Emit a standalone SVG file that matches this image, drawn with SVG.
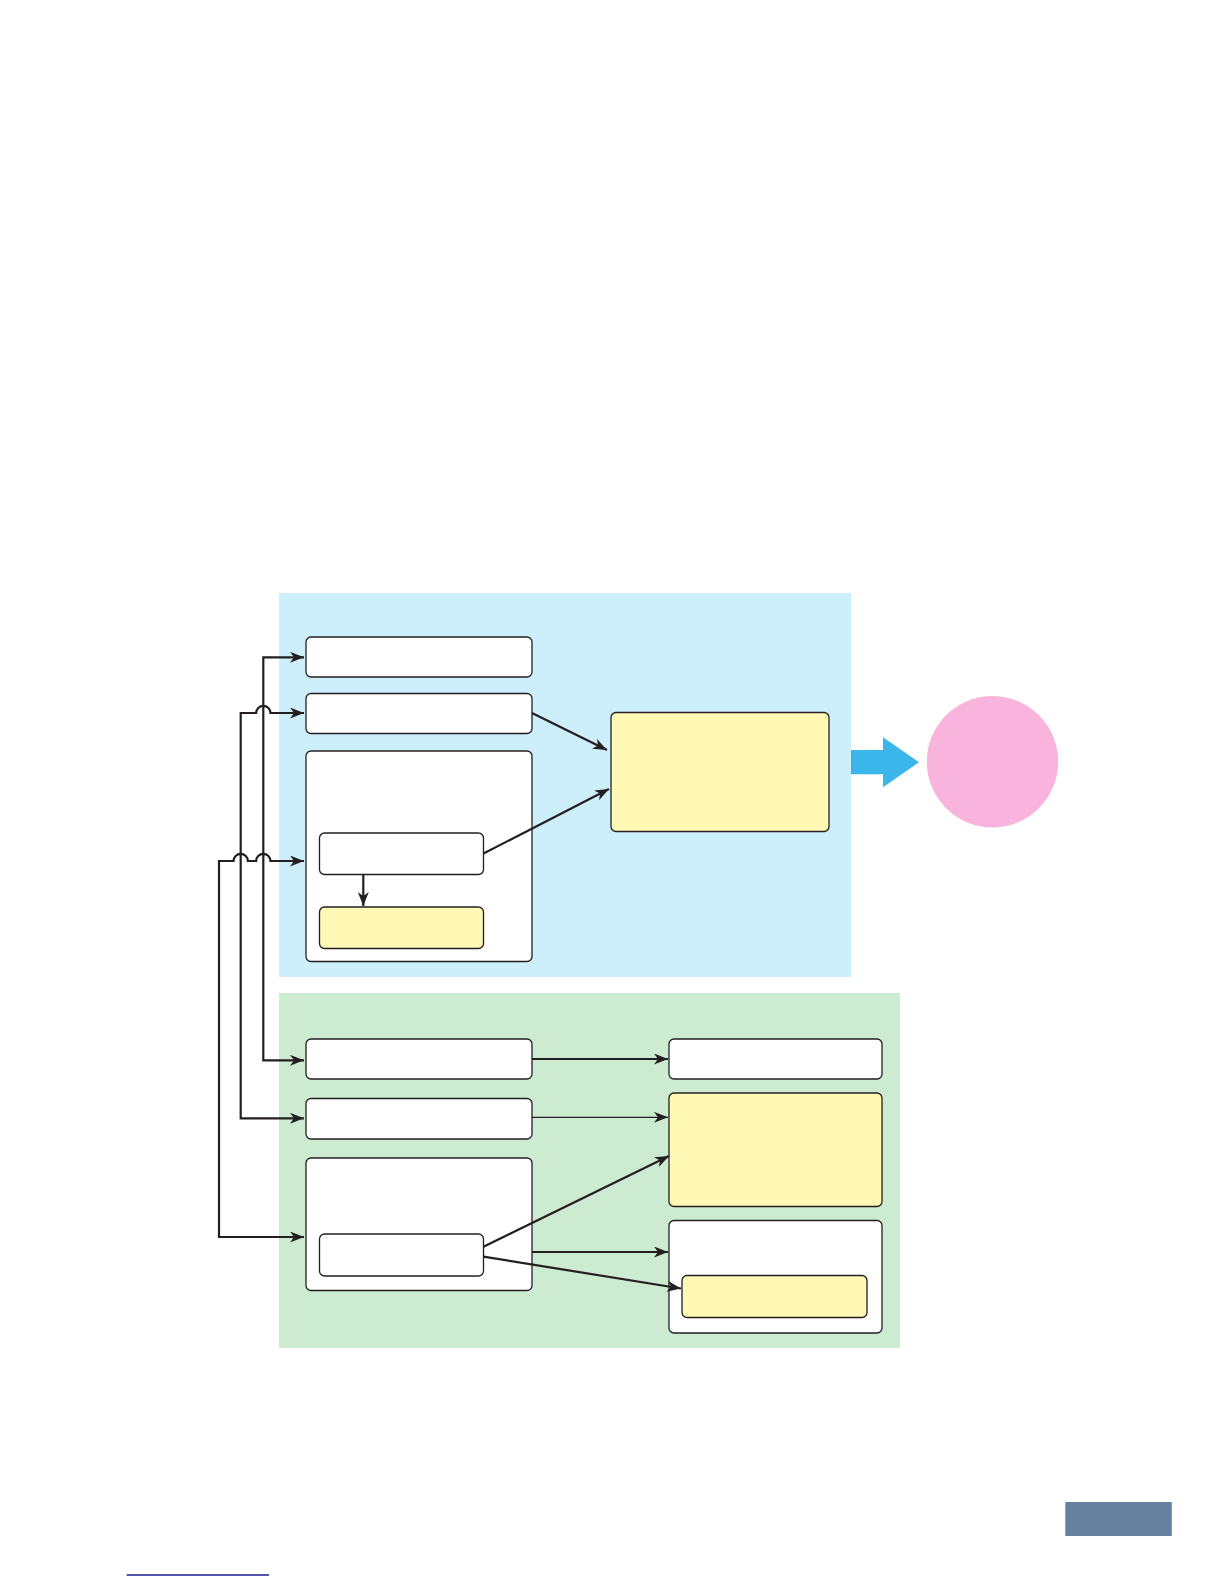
<svg xmlns="http://www.w3.org/2000/svg" width="1224" height="1584" viewBox="0 0 1224 1584">
<style>
.box{fill:#ffffff;stroke:#231f20;stroke-width:1.3}
.ybox{fill:#fff9b5;stroke:#231f20;stroke-width:1.3}
.con{fill:none;stroke:#231f20;stroke-width:2.2}
.thin{fill:none;stroke:#231f20;stroke-width:1.3}
</style>
<defs>
<marker id="ah" viewBox="0 0 14 11" refX="14" refY="5.5" markerWidth="14" markerHeight="11" markerUnits="userSpaceOnUse" orient="auto-start-reverse">
<path d="M0,0 L14,5.5 L0,11 L4,5.5 z" fill="#231f20"/>
</marker>
</defs>
<rect width="1224" height="1584" fill="#ffffff"/>
<g id="panel-blue"><rect x="279" y="593" width="572" height="384" fill="#cdeefb"/></g>
<g id="panel-green"><rect x="279" y="993" width="621" height="355" fill="#cdebd0"/></g>
<g id="n1"><rect class="box" x="306" y="637" width="226" height="40" rx="5"/></g>
<g id="n2"><rect class="box" x="306" y="693.5" width="226" height="40" rx="5"/></g>
<g id="n3"><rect class="box" x="306" y="751" width="226" height="210.5" rx="5"/></g>
<g id="n3a"><rect class="box" x="319.5" y="833" width="164" height="41.5" rx="5"/></g>
<g id="n3b"><rect class="ybox" x="319.5" y="907" width="164" height="41.5" rx="5"/></g>
<g id="n-result"><rect class="ybox" x="611" y="712.5" width="218" height="119" rx="5"/></g>
<g id="big-arrow"><path d="M851,750 H883 V737.3 L919,762.3 L883,787.3 V774.3 H851 z" fill="#3bb6ea"/></g>
<g id="n-circle"><circle cx="992.5" cy="761.7" r="65.7" fill="#f8b4dc"/></g>
<g id="n4"><rect class="box" x="306" y="1039" width="226" height="40" rx="5"/></g>
<g id="n5"><rect class="box" x="306" y="1098.5" width="226" height="40.5" rx="5"/></g>
<g id="n6"><rect class="box" x="306" y="1158" width="226" height="132.5" rx="5"/></g>
<g id="n6a"><rect class="box" x="319.5" y="1234" width="164" height="42" rx="5"/></g>
<g id="r1"><rect class="box" x="669" y="1039" width="213" height="40" rx="5"/></g>
<g id="r2"><rect class="ybox" x="669" y="1093" width="213" height="113.5" rx="5"/></g>
<g id="r3"><rect class="box" x="669" y="1220.5" width="213" height="112.5" rx="5"/></g>
<g id="r3a"><rect class="ybox" x="682" y="1275.5" width="185" height="42" rx="5"/></g>
<g id="footer-tab"><rect x="1065.3" y="1502" width="106.5" height="34" fill="#6781a0"/></g>
<g id="footer-line"><line x1="126.7" y1="1575" x2="269" y2="1575" stroke="#1a1a8c" stroke-width="1.5"/></g>
<g id="connectors">
<path class="con" d="M304,657.3 H263.3 V1060.3 H304" marker-start="url(#ah)" marker-end="url(#ah)"/>
<path class="con" d="M304,713 H270.5 A7,7 0 0 0 256.1,713 H240.7 V1118.3 H304" marker-start="url(#ah)" marker-end="url(#ah)"/>
<path class="con" d="M304,861 H270.5 A7,7 0 0 0 256.1,861 H247.9 A7,7 0 0 0 233.5,861 H219 V1237 H304" marker-start="url(#ah)" marker-end="url(#ah)"/>
<path class="con" d="M363.3,874.5 V906" marker-end="url(#ah)"/>
<path class="con" d="M532,713 L607,750" marker-end="url(#ah)"/>
<path class="con" d="M483.5,853.5 L609,789" marker-end="url(#ah)"/>
<path class="con" d="M532,1059 L668,1059" marker-end="url(#ah)"/>
<path class="thin" d="M532,1117.3 L668,1117.3" marker-end="url(#ah)"/>
<path class="con" d="M483.5,1246.7 L669,1156" marker-end="url(#ah)"/>
<path class="con" d="M532,1252 L668,1252" marker-end="url(#ah)"/>
<path class="con" d="M483.5,1256.7 L681,1288.5" marker-end="url(#ah)"/>
</g>
</svg>
